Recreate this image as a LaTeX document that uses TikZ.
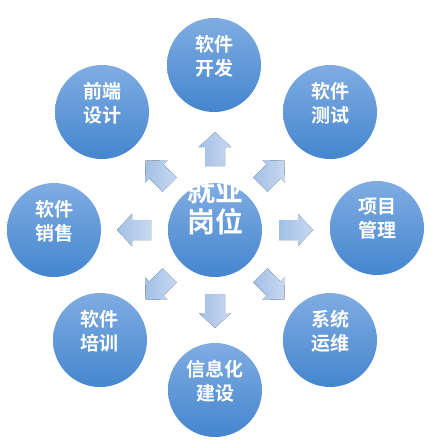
\documentclass[tikz,border=0pt]{standalone}
\usepackage{fontspec}
\newfontfamily\cjk{Noto Sans CJK SC Bold}

\definecolor{circtop}{RGB}{128,172,226}
\definecolor{circbot}{RGB}{68,134,206}
\definecolor{arrlight}{RGB}{200,216,240}
\definecolor{arrdark}{RGB}{162,192,230}

\begin{document}
\begin{tikzpicture}[x=1pt,y=-1pt]
      \tikzstyle{job} = [circle, minimum size=94pt, inner sep=0pt,
                         top color=circtop, bottom color=circbot]
      \tikzstyle{jobtxt} = [text=white, align=center, yshift=9pt,
                            font=\cjk\fontsize{19}{24}\selectfont]
      \tikzstyle{hubtxt} = [jobtxt, yshift=15pt,
                            font=\cjk\fontsize{28}{31}\selectfont]
      \tikzstyle{blockarrow} = [left color=arrdark, right color=arrlight]

      \useasboundingbox (0,0) rectangle (447,448);

      \node[job] (hub) at (215,230) {};

      \node[job] (kfa) at (214,65)  {};
      \node[job] (cs)  at (330,112) {};
      \node[job] (xm)  at (377,228) {};
      \node[job] (yw)  at (330,340) {};
      \node[job] (xx)  at (215,390) {};
      \node[job] (px)  at (100,340) {};
      \node[job] (xs)  at (54,230)  {};
      \node[job] (qd)  at (102,112) {};

      \foreach \a in {0,45,...,315}
        \fill[blockarrow, shift={(hub)}, rotate=\a]
          (64,-10) -- (83,-10) -- (83,-16) -- (98,0) -- (83,16)
          -- (83,10) -- (64,10) -- cycle;

      \node[hubtxt] (hub-t) at (hub) {就业\\岗位};
      \node[jobtxt] (kfa-t) at (kfa) {软件\\开发};
      \node[jobtxt] (cs-t)  at (cs)  {软件\\测试};
      \node[jobtxt] (xm-t)  at (xm)  {项目\\管理};
      \node[jobtxt] (yw-t)  at (yw)  {系统\\运维};
      \node[jobtxt] (xx-t)  at (xx)  {信息化\\建设};
      \node[jobtxt] (px-t)  at (px)  {软件\\培训};
      \node[jobtxt] (xs-t)  at (xs)  {软件\\销售};
      \node[jobtxt] (qd-t)  at (qd)  {前端\\设计};
    \end{tikzpicture}
\end{document}
